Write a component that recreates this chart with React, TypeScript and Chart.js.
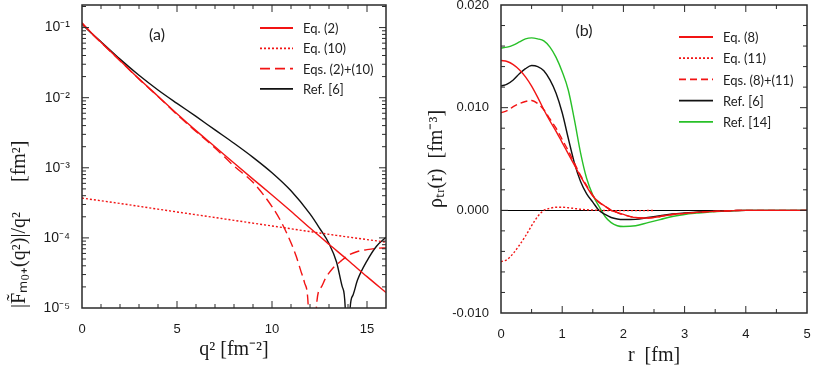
import { useEffect, useRef } from 'react';
import { Chart, registerables } from 'chart.js';

Chart.register(...registerables);

// ---------------- Panel (a) data ----------------
const q2Eq2 = [0, 0.5, 1, 2, 3, 4, 5, 6, 7, 8, 9, 10, 11, 12, 13, 14, 15, 16];
const fEq2 = [0.117, 0.084, 0.0617, 0.0339, 0.0186, 0.0105, 0.00589, 0.00339, 0.002, 0.00117, 0.00069, 0.00041, 0.00024, 0.000138, 0.000081, 0.000048, 0.000028, 0.0000166];

const q2Eq10 = [0, 2, 4, 6, 8, 10, 12, 14, 16];
const fEq10 = [0.00037, 0.00031, 0.000257, 0.000214, 0.000178, 0.000148, 0.000123, 0.000103, 0.000087];

const q2Sum = [0, 0.5, 1, 2, 3, 4, 5, 6, 7, 8, 9, 10, 10.5, 11, 11.27, 11.5, 11.71, 11.9, 12.13, 12.35, 12.6, 12.8, 13.2, 13.6, 14, 14.5, 15, 15.5, 16];
const fSum = [0.115, 0.083, 0.0612, 0.0337, 0.0184, 0.0104, 0.00575, 0.0033, 0.00192, 0.00106, 0.00062, 0.00028, 0.000166, 0.000085, 0.000055, 0.000035, 0.000023, 0.0000115, 0.0000001, 0.0000115, 0.00002, 0.000026, 0.000037, 0.000046, 0.000056, 0.000064, 0.000068, 0.000071, 0.000072];

const q2Ref6 = [0, 0.5, 1, 2, 3, 4, 5, 6, 7, 8, 9, 10, 11, 12, 12.5, 13, 13.4, 13.7, 13.85, 13.98, 14.1, 14.25, 14.5, 15, 15.5, 16];
const fRef6 = [0.112, 0.083, 0.063, 0.0355, 0.0209, 0.0129, 0.0083, 0.0054, 0.00347, 0.00224, 0.00141, 0.00085, 0.00047, 0.00022, 0.000138, 0.000083, 0.000045, 0.00002, 0.0000105, 0.0000001, 0.000009, 0.000015, 0.000025, 0.000047, 0.000076, 0.000102];

const aLabels = ['Eq. (2)', 'Eq. (10)', 'Eqs. (2)+(10)', 'Ref. [6]'];
const aXTickLabels = [0, 5, 10, 15];
const aYTickLabels = [1e-5, 1e-4, 1e-3, 1e-2, 1e-1];

// ---------------- Panel (b) data ----------------
const rGrid = [0, 0.1, 0.2, 0.3, 0.4, 0.5, 0.6, 0.7, 0.8, 0.9, 1.0, 1.1, 1.2, 1.3, 1.4, 1.5, 1.6, 1.7, 1.8, 1.9, 2.0, 2.2, 2.4, 2.6, 2.8, 3.0, 3.2, 3.4, 3.6, 3.8, 4.0, 4.5, 5.0];
const rhoEq8 = [0.0146, 0.0145, 0.0142, 0.0137, 0.013, 0.0121, 0.011, 0.0098, 0.0087, 0.0077, 0.0066, 0.0055, 0.0044, 0.0033, 0.0023, 0.0014, 0.0008, 0.0004, 0.0, -0.0002, -0.0004, -0.0007, -0.00075, -0.0006, -0.0004, -0.0003, -0.0002, -0.00013, -0.00008, -0.00003, 0, 0, 0];
const rhoSum = [0.0095, 0.0097, 0.0101, 0.0104, 0.0106, 0.0107, 0.0104, 0.0098, 0.0089, 0.008, 0.0069, 0.0058, 0.0046, 0.0034, 0.0024, 0.00145, 0.0008, 0.0004, 0.0, -0.00023, -0.00043, -0.0007, -0.00075, -0.0006, -0.0004, -0.0003, -0.0002, -0.00013, -0.00008, -0.00003, 0, 0, 0];
const rhoRef6 = [0.0121, 0.0123, 0.0127, 0.0133, 0.0138, 0.0141, 0.014, 0.0136, 0.0127, 0.0114, 0.0095, 0.007, 0.0046, 0.0028, 0.0016, 0.0008, 0.0, -0.0004, -0.0007, -0.00085, -0.0009, -0.00088, -0.0007, -0.00052, -0.00035, -0.00025, -0.00017, -0.0001, -0.00006, -0.00003, 0, 0, 0];
const rhoRef14 = [0.0158, 0.0159, 0.0161, 0.0164, 0.0167, 0.0168, 0.0167, 0.0165, 0.0159, 0.0149, 0.0135, 0.0117, 0.0088, 0.0056, 0.0031, 0.0015, 0.0004, -0.0006, -0.0012, -0.0015, -0.00158, -0.0015, -0.0012, -0.0009, -0.0006, -0.0004, -0.00027, -0.00016, -0.0001, -0.00004, 0, 0, 0];
const rEq11 = [0, 0.1, 0.2, 0.3, 0.4, 0.5, 0.6, 0.7, 0.8, 0.9, 1.0, 1.1, 1.2, 1.3, 1.4, 1.6, 1.8, 2.0, 2.5];
const rhoEq11 = [-0.005, -0.0048, -0.0042, -0.0034, -0.0025, -0.0015, -0.0006, 0.0, 0.0002, 0.0003, 0.0003, 0.00025, 0.00018, 0.0001, 0.00006, 0.0, -0.00003, -0.00003, -0.00002];

const bLabels = ['Eq. (8)', 'Eq. (11)', 'Eqs. (8)+(11)', 'Ref. [6]', 'Ref. [14]'];
const bXTickLabels = [0, 1, 2, 3, 4, 5];
const bYTickLabels = [-0.01, 0, 0.01, 0.02];

// ---------------- styling ----------------
const RED = 'rgb(242,20,20)';
const BLACK = '#111111';
const GREEN = 'rgb(40,192,40)';
const SERIF = "'Liberation Serif', 'Times New Roman', serif";
const SANS = "'Liberation Sans', Arial, sans-serif";
const LEGEND_FONT = "Lato, 'Open Sans', sans-serif";
const TEXT = '#1a1a1a';
const FRAME = '#2a2a2a';

const SUP: Record<string, string> = { '-': '⁻', '0': '⁰', '1': '¹', '2': '²', '3': '³', '4': '⁴', '5': '⁵', '6': '⁶', '7': '⁷', '8': '⁸', '9': '⁹' };

const near = (a: number, b: number) => Math.abs(a - b) < 1e-9 * Math.max(1, Math.abs(b)) || Math.abs(a - b) < 1e-12;

const pts = (xs: number[], ys: number[]) => xs.map((x, i) => ({ x, y: ys[i] }));

function tickKind(v: number, cfg: any): number {
  if (cfg.log) {
    if (!(v > 0)) return 0;
    const e = Math.floor(Math.log10(v) + 1e-9);
    const m = v / Math.pow(10, e);
    if (Math.abs(m - Math.round(m)) > 1e-6) return 0;
    return Math.round(m) === 1 ? 2 : 1;
  }
  const r = v / cfg.major;
  return Math.abs(r - Math.round(r)) < 1e-6 ? 2 : 1;
}

const framePlugin = {
  id: 'frame',
  beforeDatasetsDraw(chart: any, _args: any, opts: any) {
    if (!opts.zeroLine) return;
    const { ctx, chartArea: a } = chart;
    const y = Math.round(chart.scales.y.getPixelForValue(0)) + 0.5;
    ctx.save();
    ctx.strokeStyle = '#000';
    ctx.lineWidth = 1;
    ctx.beginPath();
    ctx.moveTo(a.left, y);
    ctx.lineTo(a.right, y);
    ctx.stroke();
    ctx.restore();
  },
  afterDraw(chart: any, _args: any, opts: any) {
    const { ctx, chartArea: a } = chart;
    const xs = chart.scales.x;
    const ys = chart.scales.y;
    ctx.save();
    ctx.strokeStyle = FRAME;
    ctx.lineWidth = 1;
    ctx.setLineDash([]);
    for (const t of xs.ticks) {
      const k = tickKind(t.value, opts.x);
      if (!k) continue;
      const p = xs.getPixelForValue(t.value);
      if (p <= a.left + 1 || p >= a.right - 1) continue;
      const len = k === 2 ? opts.major : opts.minor;
      ctx.beginPath();
      ctx.moveTo(p, a.bottom);
      ctx.lineTo(p, a.bottom - len);
      ctx.moveTo(p, a.top);
      ctx.lineTo(p, a.top + len);
      ctx.stroke();
    }
    for (const t of ys.ticks) {
      const k = tickKind(t.value, opts.y);
      if (!k) continue;
      const p = ys.getPixelForValue(t.value);
      if (p <= a.top + 1 || p >= a.bottom - 1) continue;
      const len = k === 2 ? opts.major : opts.minor;
      ctx.beginPath();
      ctx.moveTo(a.left, p);
      ctx.lineTo(a.left + len, p);
      ctx.moveTo(a.right, p);
      ctx.lineTo(a.right - len, p);
      ctx.stroke();
    }
    ctx.lineWidth = 1.5;
    ctx.strokeRect(a.left, a.top, a.right - a.left, a.bottom - a.top);

    // legend
    const lg = opts.legend;
    ctx.font = `${lg.size}px ${LEGEND_FONT}`;
    ctx.textBaseline = 'middle';
    ctx.textAlign = 'left';
    chart.data.datasets.forEach((ds: any, i: number) => {
      const y = a.top + lg.y + i * lg.dy;
      const x0 = a.left + lg.x;
      ctx.strokeStyle = ds.borderColor;
      ctx.lineWidth = (ds.borderWidth || 1.4) + 0.4;
      ctx.setLineDash(ds.borderDash || []);
      ctx.beginPath();
      ctx.moveTo(x0, y);
      ctx.lineTo(x0 + lg.len, y);
      ctx.stroke();
      ctx.setLineDash([]);
      ctx.fillStyle = '#222';
      ctx.fillText(ds.label, x0 + lg.len + lg.gap, y + 1);
    });

    // panel tag
    ctx.font = `16px ${LEGEND_FONT}`;
    ctx.textAlign = 'center';
    ctx.fillStyle = '#222';
    ctx.fillText(opts.tag.text, a.left + opts.tag.x, a.top + opts.tag.y);
    ctx.restore();
  },
};

const tickFont = { family: SANS, size: 13 };
const logTickFont = { family: SANS, size: 14 };
const titleFont = { family: SERIF, size: 20 };

const lineCommon = {
  pointRadius: 0,
  pointHoverRadius: 0,
  fill: false,
  borderWidth: 1.4,
  cubicInterpolationMode: 'monotone' as const,
};

function makeA(): any {
  return {
    type: 'line',
    data: {
      datasets: [
        { ...lineCommon, label: aLabels[0], data: pts(q2Eq2, fEq2), borderColor: RED, borderDash: [] },
        { ...lineCommon, label: aLabels[1], data: pts(q2Eq10, fEq10), borderColor: RED, borderDash: [2, 2] },
        { ...lineCommon, label: aLabels[2], data: pts(q2Sum, fSum), borderColor: RED, borderDash: [10, 5] },
        { ...lineCommon, label: aLabels[3], data: pts(q2Ref6, fRef6), borderColor: BLACK, borderDash: [] },
      ],
    },
    options: {
      animation: false,
      responsive: false,
      events: [],
      layout: { padding: { left: 0, top: 5, right: 24, bottom: 0 } },
      plugins: {
        legend: { display: false },
        tooltip: { enabled: false },
        frame: {
          x: { major: 5 },
          y: { log: true },
          major: 7,
          minor: 4,
          legend: { x: 178, y: 23, dy: 20.3, len: 33, gap: 10, size: 13 },
          tag: { text: '(a)', x: 75, y: 30 },
        },
      },
      scales: {
        x: {
          type: 'linear',
          min: 0,
          max: 16,
          border: { display: false },
          grid: { display: false },
          ticks: {
            stepSize: 1,
            autoSkip: false,
            maxRotation: 0,
            padding: 6,
            font: tickFont,
            color: TEXT,
            callback: (v: number) => (aXTickLabels.some((t) => near(v, t)) ? String(Math.round(v)) : ''),
          },
          title: { display: true, text: 'q² [fm⁻²]', font: titleFont, color: TEXT, padding: { top: 0, bottom: 10 } },
          afterFit: (s: any) => {
            s.height = 64;
            s.paddingLeft = 0;
            s.paddingRight = 0;
          },
        },
        y: {
          type: 'logarithmic',
          min: 1e-5,
          max: 0.21,
          border: { display: false },
          grid: { display: false },
          ticks: {
            autoSkip: false,
            padding: 4,
            font: logTickFont,
            color: TEXT,
            callback: (v: number) => {
              const hit = aYTickLabels.find((t) => near(v, t));
              if (hit === undefined) return '';
              const e = Math.round(Math.log10(hit));
              return '10' + String(e).split('').map((c) => SUP[c]).join('');
            },
          },
          title: {
            display: true,
            text: '|F̃ₘ₀₊(q²)|/q²      [fm²]',
            align: 'start',
            font: titleFont,
            color: TEXT,
            padding: { top: 8, bottom: 0 },
          },
          afterFit: (s: any) => {
            s.width = 82;
            s.paddingTop = 0;
            s.paddingBottom = 0;
          },
        },
      },
    },
    plugins: [framePlugin],
  };
}

function makeB(): any {
  return {
    type: 'line',
    data: {
      datasets: [
        { ...lineCommon, label: bLabels[0], data: pts(rGrid, rhoEq8), borderColor: RED, borderDash: [] },
        { ...lineCommon, label: bLabels[1], data: pts(rEq11, rhoEq11), borderColor: RED, borderDash: [2, 2] },
        { ...lineCommon, label: bLabels[2], data: pts(rGrid, rhoSum), borderColor: RED, borderDash: [7, 4] },
        { ...lineCommon, label: bLabels[3], data: pts(rGrid, rhoRef6), borderColor: BLACK, borderDash: [] },
        { ...lineCommon, label: bLabels[4], data: pts(rGrid, rhoRef14), borderColor: GREEN, borderDash: [] },
      ],
    },
    options: {
      animation: false,
      responsive: false,
      events: [],
      layout: { padding: { left: 0, top: 5, right: 11, bottom: 0 } },
      plugins: {
        legend: { display: false },
        tooltip: { enabled: false },
        frame: {
          x: { major: 1 },
          y: { major: 0.01 },
          major: 7,
          minor: 4,
          zeroLine: true,
          legend: { x: 178, y: 32, dy: 21.2, len: 34, gap: 10, size: 13 },
          tag: { text: '(b)', x: 83, y: 26 },
        },
      },
      scales: {
        x: {
          type: 'linear',
          min: 0,
          max: 5,
          border: { display: false },
          grid: { display: false },
          ticks: {
            stepSize: 0.5,
            autoSkip: false,
            maxRotation: 0,
            padding: 6,
            font: tickFont,
            color: TEXT,
            callback: (v: number) => (bXTickLabels.some((t) => near(v, t)) ? String(Math.round(v)) : ''),
          },
          title: { display: true, text: 'r  [fm]', font: titleFont, color: TEXT, padding: { top: 0, bottom: 4 } },
          afterFit: (s: any) => {
            s.height = 59;
            s.paddingLeft = 0;
            s.paddingRight = 0;
          },
        },
        y: {
          type: 'linear',
          min: -0.01,
          max: 0.02,
          border: { display: false },
          grid: { display: false },
          ticks: {
            stepSize: 0.002,
            autoSkip: false,
            padding: 4,
            font: tickFont,
            color: TEXT,
            callback: (v: number) => {
              const hit = bYTickLabels.find((t) => Math.abs(v - t) < 1e-9);
              return hit === undefined ? '' : hit.toFixed(3);
            },
          },
          title: {
            display: true,
            text: 'ρₜᵣ(r)  [fm⁻³]',
            font: titleFont,
            color: TEXT,
            padding: { top: 15, bottom: 0 },
          },
          afterFit: (s: any) => {
            s.width = 91;
            s.paddingTop = 0;
            s.paddingBottom = 0;
          },
        },
      },
    },
    plugins: [framePlugin],
  };
}

function PanelChart({ make, width, height }: { make: () => any; width: number; height: number }) {
  const ref = useRef<HTMLCanvasElement>(null);
  useEffect(() => {
    if (!ref.current) return;
    const chart = new Chart(ref.current, make());
    return () => chart.destroy();
  }, [make]);
  return <canvas ref={ref} width={width} height={height} style={{ display: 'block', width, height }} />;
}

export default function App() {
  return (
    <div style={{ position: 'fixed', left: 0, top: 0, width: 818, height: 372, background: '#ffffff', overflow: 'hidden' }}>
      <div style={{ position: 'absolute', left: 0, top: 0 }}>
        <PanelChart make={makeA} width={410} height={372} />
      </div>
      <div style={{ position: 'absolute', left: 410, top: 0 }}>
        <PanelChart make={makeB} width={408} height={372} />
      </div>
    </div>
  );
}
